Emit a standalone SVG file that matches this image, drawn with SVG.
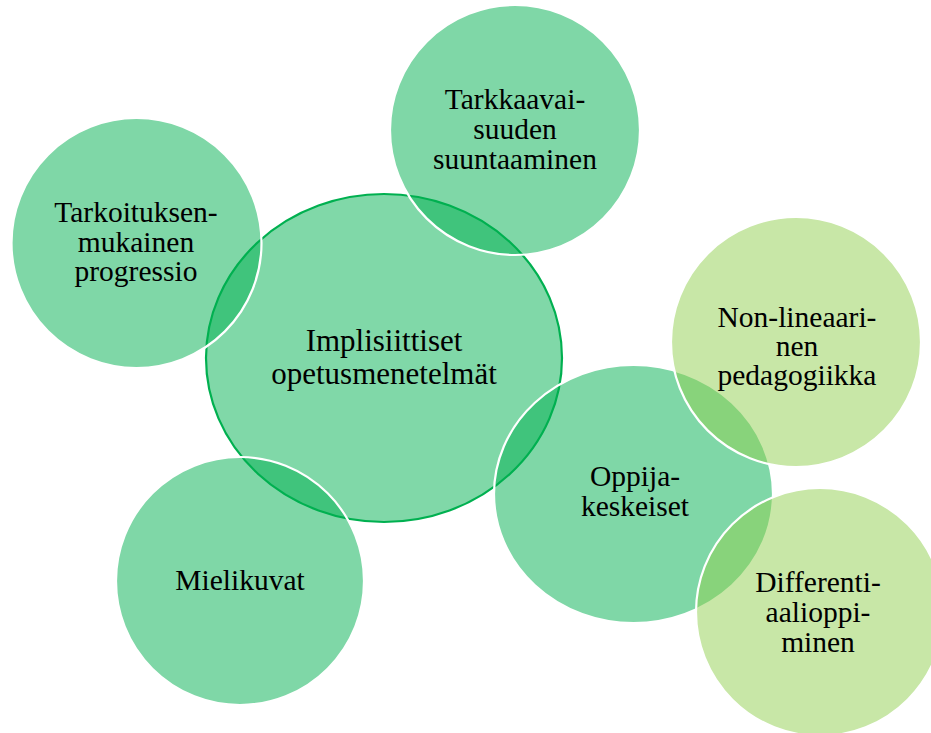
<svg xmlns="http://www.w3.org/2000/svg" width="931" height="733" viewBox="0 0 931 733">
<style>
.bg{fill:#ffffff}
.main{fill:#80d8a8;stroke:#00b050;stroke-width:2.2}
.g{fill:#00b050;fill-opacity:0.5;stroke:#ffffff;stroke-width:2.2}
.lg{fill:#92d050;fill-opacity:0.5;stroke:#ffffff;stroke-width:2.2}
text{font-family:"Liberation Serif","Times New Roman",serif;font-size:29.5px;fill:#000000;text-anchor:middle}
.big{font-size:31px}
</style>
<rect class="bg" x="0" y="0" width="931" height="733"/>
<g id="connectors"></g>
<g id="center">
<ellipse class="main" cx="384" cy="358" rx="178" ry="164"/>
<text class="big" x="384" y="351">Implisiittiset</text>
<text class="big" x="384" y="384">opetusmenetelmät</text>
</g>
<g id="tarkoituksen">
<circle class="g" cx="136.5" cy="243" r="125"/>
<text x="136" y="222">Tarkoituksen-</text>
<text x="136" y="252">mukainen</text>
<text x="136" y="281">progressio</text>
</g>
<g id="tarkkaavaisuuden">
<circle class="g" cx="515" cy="130" r="125"/>
<text x="515" y="109">Tarkkaavai-</text>
<text x="515" y="139">suuden</text>
<text x="515" y="169">suuntaaminen</text>
</g>
<g id="mielikuvat">
<circle class="g" cx="240" cy="581" r="124"/>
<text x="240" y="590">Mielikuvat</text>
</g>
<g id="oppijakeskeiset">
<ellipse class="g" cx="633.5" cy="494" rx="139.5" ry="129"/>
<text x="635" y="486">Oppija-</text>
<text x="635" y="516">keskeiset</text>
</g>
<g id="nonlineaarinen">
<circle class="lg" cx="796" cy="342" r="125"/>
<text x="797" y="327">Non-lineaari-</text>
<text x="797" y="356">nen</text>
<text x="797" y="385">pedagogiikka</text>
</g>
<g id="differentiaalioppiminen">
<circle class="lg" cx="820" cy="612" r="124"/>
<text x="818" y="592">Differenti-</text>
<text x="818" y="622">aalioppi-</text>
<text x="818" y="652">minen</text>
</g>
</svg>
